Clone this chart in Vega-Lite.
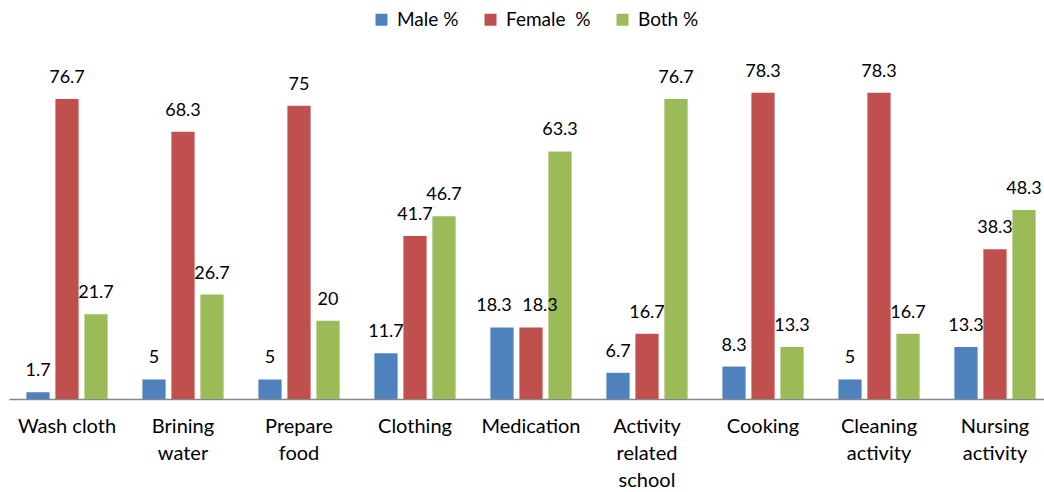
{
  "$schema": "https://vega.github.io/schema/vega-lite/v6.json",
  "autosize": "none",
  "width": 1044,
  "height": 352,
  "padding": {"left": 9, "top": 47, "right": 0, "bottom": 93},
  "background": "white",
  "config": {
    "view": {"stroke": null},
    "font": "Lato",
    "text": {"font": "Lato"}
  },
  "data": {
    "values": [
      {"activity": "Wash cloth", "group": "Male %", "value": 1.7},
      {"activity": "Wash cloth", "group": "Female  %", "value": 76.7},
      {"activity": "Wash cloth", "group": "Both %", "value": 21.7},
      {"activity": "Brining water", "group": "Male %", "value": 5},
      {"activity": "Brining water", "group": "Female  %", "value": 68.3},
      {"activity": "Brining water", "group": "Both %", "value": 26.7},
      {"activity": "Prepare food", "group": "Male %", "value": 5},
      {"activity": "Prepare food", "group": "Female  %", "value": 75},
      {"activity": "Prepare food", "group": "Both %", "value": 20},
      {"activity": "Clothing", "group": "Male %", "value": 11.7},
      {"activity": "Clothing", "group": "Female  %", "value": 41.7},
      {"activity": "Clothing", "group": "Both %", "value": 46.7},
      {"activity": "Medication", "group": "Male %", "value": 18.3},
      {"activity": "Medication", "group": "Female  %", "value": 18.3},
      {"activity": "Medication", "group": "Both %", "value": 63.3},
      {"activity": "Activity related school", "group": "Male %", "value": 6.7},
      {"activity": "Activity related school", "group": "Female  %", "value": 16.7},
      {"activity": "Activity related school", "group": "Both %", "value": 76.7},
      {"activity": "Cooking", "group": "Male %", "value": 8.3},
      {"activity": "Cooking", "group": "Female  %", "value": 78.3},
      {"activity": "Cooking", "group": "Both %", "value": 13.3},
      {"activity": "Cleaning activity", "group": "Male %", "value": 5},
      {"activity": "Cleaning activity", "group": "Female  %", "value": 78.3},
      {"activity": "Cleaning activity", "group": "Both %", "value": 16.7},
      {"activity": "Nursing activity", "group": "Male %", "value": 13.3},
      {"activity": "Nursing activity", "group": "Female  %", "value": 38.3},
      {"activity": "Nursing activity", "group": "Both %", "value": 48.3}
    ]
  },
  "encoding": {
    "x": {
      "field": "activity",
      "type": "nominal",
      "sort": null,
      "scale": {"paddingInner": 0.25, "paddingOuter": 0.125},
      "axis": {
        "title": null,
        "labelAngle": 0,
        "labelFontSize": 20,
        "labelColor": "#000000",
        "labelFont": "Lato",
        "labelPadding": 17,
        "labelLineHeight": 27,
        "labelExpr": "datum.label == 'Wash cloth' ? 'Wash cloth' : split(datum.label, ' ')",
        "ticks": false,
        "domainColor": "#868686",
        "domainWidth": 1.5,
        "grid": false
      }
    },
    "xOffset": {
      "field": "group",
      "type": "nominal",
      "sort": ["Male %", "Female  %", "Both %"],
      "scale": {"paddingInner": 0.2, "paddingOuter": 0.1}
    },
    "y": {
      "field": "value",
      "type": "quantitative",
      "scale": {"domain": [0, 90]},
      "axis": null
    }
  },
  "layer": [
    {
      "mark": {"type": "bar"},
      "encoding": {
        "color": {
          "field": "group",
          "type": "nominal",
          "sort": ["Male %", "Female  %", "Both %"],
          "scale": {
            "domain": ["Male %", "Female  %", "Both %"],
            "range": ["#4F81BD", "#C0504D", "#9BBB59"]
          },
          "legend": {
            "title": null,
            "orient": "none",
            "direction": "horizontal",
            "legendX": 363,
            "legendY": -37,
            "symbolType": "square",
            "symbolSize": 144,
            "symbolStrokeWidth": 0,
            "labelFontSize": 19,
            "labelFont": "Lato",
            "labelColor": "#000000",
            "labelOffset": 6,
            "columnPadding": 22,
            "labelExpr": "replace(datum.label, '  ', '\u00a0 ')"
          }
        }
      }
    },
    {
      "transform": [{"filter": "datum.activity != 'Medication' || datum.group == 'Both %'"}],
      "mark": {"type": "text", "baseline": "bottom", "dy": -12, "fontSize": 18, "color": "#000000", "font": "Lato"},
      "encoding": {
        "text": {"field": "value", "type": "quantitative", "format": "~g"}
      }
    },
    {
      "transform": [{"filter": "datum.activity == 'Medication' && datum.group == 'Male %'"}],
      "mark": {"type": "text", "baseline": "bottom", "dy": -12, "dx": -8, "fontSize": 18, "color": "#000000", "font": "Lato"},
      "encoding": {
        "text": {"field": "value", "type": "quantitative", "format": "~g"}
      }
    },
    {
      "transform": [{"filter": "datum.activity == 'Medication' && datum.group == 'Female  %'"}],
      "mark": {"type": "text", "baseline": "bottom", "dy": -12, "dx": 9, "fontSize": 18, "color": "#000000", "font": "Lato"},
      "encoding": {
        "text": {"field": "value", "type": "quantitative", "format": "~g"}
      }
    }
  ]
}
